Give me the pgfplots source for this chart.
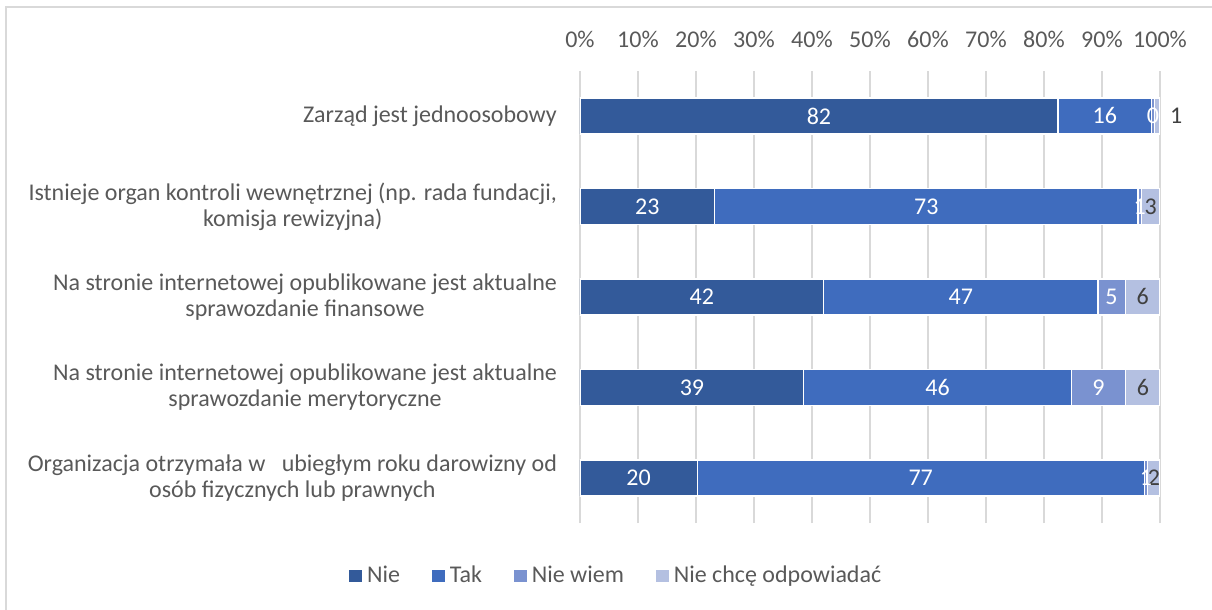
\documentclass[border=0pt]{standalone}
\usepackage{fontspec}
\setmainfont{Carlito}
\usepackage{pgfplots}
\pgfplotsset{compat=1.18}

\definecolor{cNie}{RGB}{51,90,154}
\definecolor{cTak}{RGB}{63,108,190}
\definecolor{cNW}{RGB}{122,146,208}
\definecolor{cNCh}{RGB}{180,192,225}
\definecolor{txt}{RGB}{89,89,89}
\definecolor{dark}{RGB}{64,64,64}

\begin{document}
\begin{tikzpicture}
\path[use as bounding box] (-290pt,-43.4pt) rectangle (316pt,261.6pt);
\draw[black!15, line width=0.6pt] (-287pt,-50pt) -- (-287pt,258.1pt) -- (320pt,258.1pt);
\begin{axis}[
    at={(0,0)}, anchor=south west,
    scale only axis,
    width=290pt, height=226.25pt,
    xbar stacked,
    bar width=18pt,
    xmin=0, xmax=100,
    ymin=-0.5, ymax=4.5,
    enlargelimits=false,
    xtick={0,10,...,100},
    xticklabel pos=right,
    xticklabel={\pgfmathprintnumber[assume math mode=true]{\tick}\%},
    xticklabel style={font=\fontsize{12}{13}\selectfont, text=txt, yshift=8pt},
    ytick={0,1,2,3,4},
    yticklabels={
        {Organizacja otrzymała w~~~ubiegłym roku darowizny od\\osób fizycznych lub prawnych},
        {Na stronie internetowej opublikowane jest aktualne\\sprawozdanie merytoryczne},
        {Na stronie internetowej opublikowane jest aktualne\\sprawozdanie finansowe},
        {Istnieje organ kontroli wewnętrznej (np. rada fundacji,\\komisja rewizyjna)},
        {Zarząd jest jednoosobowy}},
    yticklabel style={font=\fontsize{12}{13}\selectfont, text=txt, align=center, xshift=-8pt},
    major tick length=0pt,
    axis line style={draw=none},
    xmajorgrids=true,
    grid style={draw=black!15, line width=0.75pt},
    point meta=rawx,
    nodes near coords={\pgfmathprintnumber[fixed,precision=0,assume math mode=true]{\pgfplotspointmeta}},
    every node near coord/.append style={
        font=\fontsize{12}{13}\selectfont, anchor=center},
    legend columns=4,
    legend style={draw=none, fill=none, at={(axis description cs:0.0634,-0.1166)}, anchor=center,
        font=\fontsize{12}{13}\selectfont, text=txt,
        /tikz/every even column/.append style={column sep=13.5pt}},
    legend image code/.code={\fill[#1] (0pt,-3.4pt) rectangle (6.8pt,3.4pt);},
]
\addplot[fill=cNie, draw=white, line width=0.6pt, every node near coord/.append style={text=white}] coordinates {
    (82.4,4) (23.2,3) (42.0,2) (38.6,1) (20.2,0)};
\addplot[fill=cTak, draw=white, line width=0.6pt, every node near coord/.append style={text=white}] coordinates {
    (16.2,4) (73.0,3) (47.3,2) (46.1,1) (77.1,0)};
\addplot[fill=cNW, draw=white, line width=0.6pt, every node near coord/.append style={text=white}] coordinates {
    (0.4,4) (0.6,3) (4.7,2) (9.4,1) (0.6,0)};
\addplot[fill=cNCh, draw=white, line width=0.6pt, every node near coord/.append style={text=dark},
    nodes near coords={\ifnum\coordindex=0 \makebox[0pt][l]{\hspace{6.5pt}\pgfmathprintnumber[fixed,precision=0,assume math mode=true]{\pgfplotspointmeta}}\else\pgfmathprintnumber[fixed,precision=0,assume math mode=true]{\pgfplotspointmeta}\fi}] coordinates {
    (1.0,4) (3.2,3) (6.0,2) (5.9,1) (2.1,0)};
\legend{Nie,Tak,Nie wiem,Nie chcę odpowiadać}
\end{axis}
\end{tikzpicture}
\end{document}
